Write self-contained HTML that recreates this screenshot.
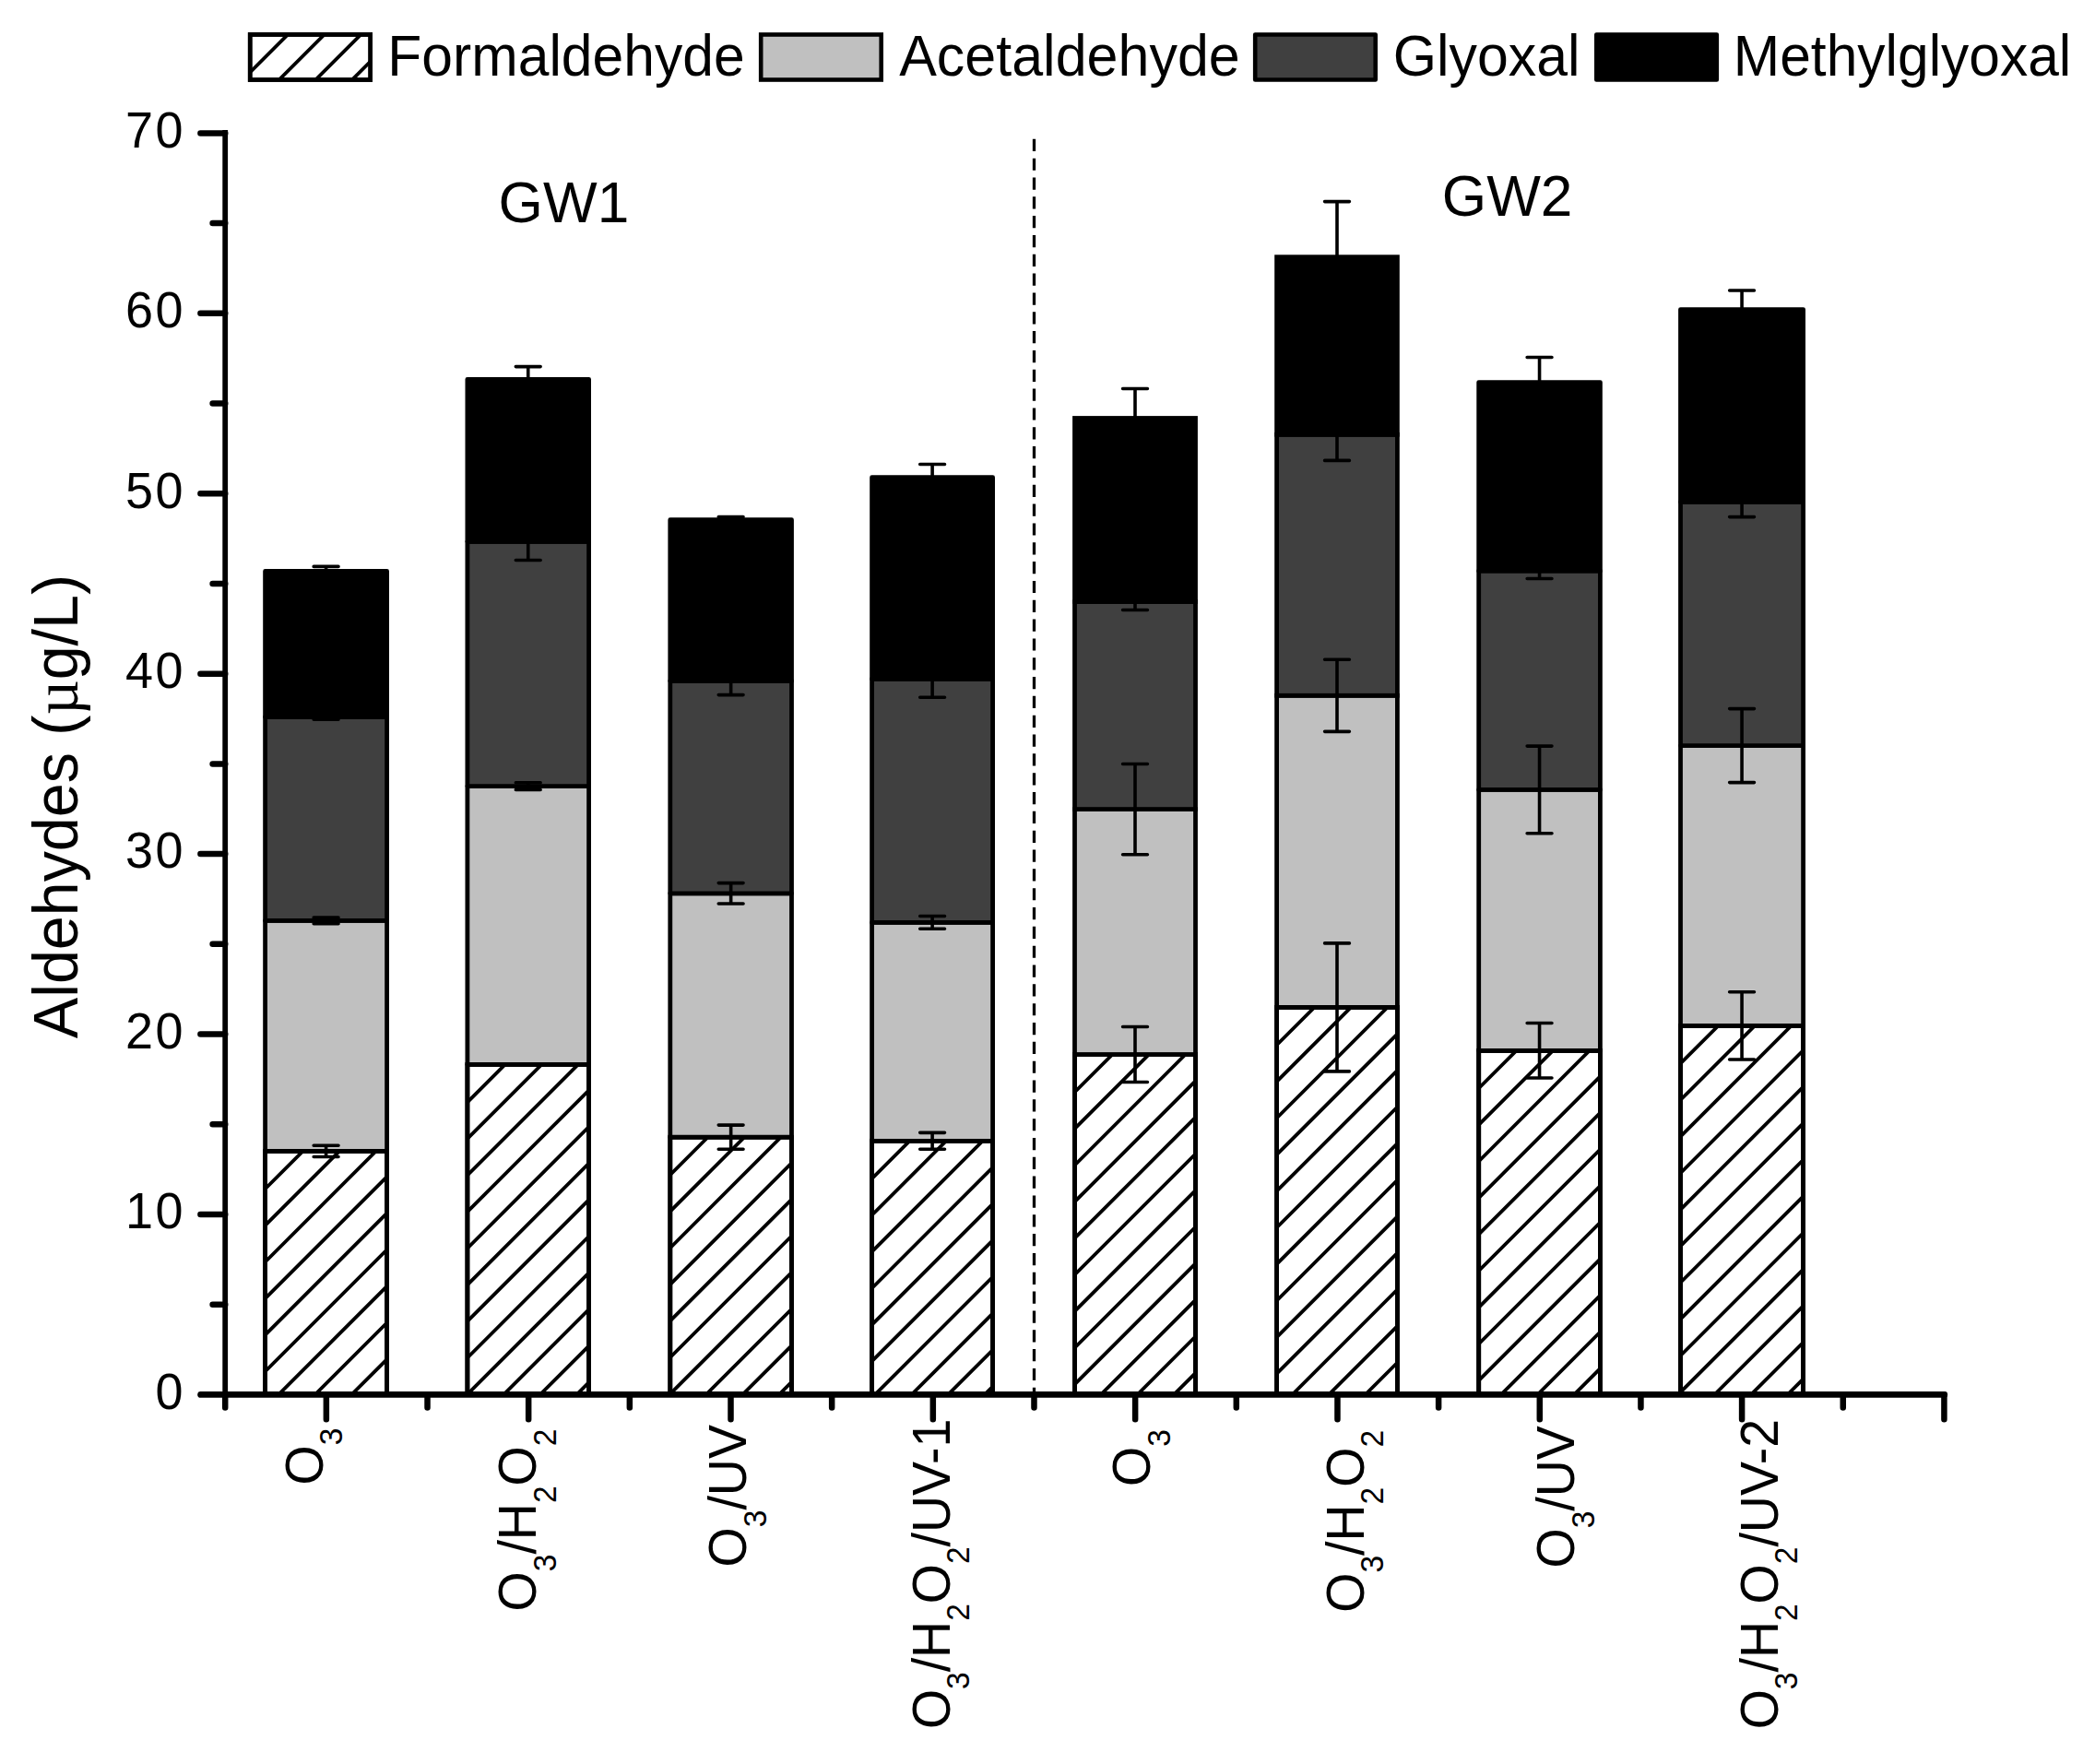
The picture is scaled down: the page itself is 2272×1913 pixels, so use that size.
<!DOCTYPE html>
<html lang="en"><head><meta charset="utf-8"><title>Aldehydes chart</title>
<style>html,body{margin:0;padding:0;background:#fff;}svg{display:block;}</style></head>
<body>
<svg width="2272" height="1913" viewBox="0 0 2272 1913">
<rect width="2272" height="1913" fill="#fff"/>
<g id="bars" stroke="#000" stroke-width="4.8" stroke-linejoin="miter">
<rect x="287.60" y="1248.40" width="132.00" height="264.00" fill="#ffffff" stroke-linejoin="round"/>
<g stroke-linejoin="miter"><clipPath id="h0"><rect x="287.60" y="1248.40" width="132.00" height="264.00"/></clipPath><g clip-path="url(#h0)" stroke="#000" stroke-width="3.8" fill="none"><path d="M282.60 1294.30L424.60 1152.30M282.60 1333.90L424.60 1191.90M282.60 1373.50L424.60 1231.50M282.60 1413.10L424.60 1271.10M282.60 1452.70L424.60 1310.70M282.60 1492.30L424.60 1350.30M282.60 1531.90L424.60 1389.90M282.60 1571.50L424.60 1429.50M282.60 1611.10L424.60 1469.10"/></g></g>
<rect x="287.60" y="1248.40" width="132.00" height="264.00" fill="none"/>
<rect x="287.60" y="998.40" width="132.00" height="250.00" fill="#c0c0c0" stroke-linejoin="round"/>
<rect x="287.60" y="777.50" width="132.00" height="220.90" fill="#404040" stroke-linejoin="round"/>
<rect x="287.60" y="619.40" width="132.00" height="158.10" fill="#000000" stroke-linejoin="round"/>
<rect x="506.90" y="1154.40" width="131.70" height="358.00" fill="#ffffff" stroke-linejoin="round"/>
<g stroke-linejoin="miter"><clipPath id="h1"><rect x="506.90" y="1154.40" width="131.70" height="358.00"/></clipPath><g clip-path="url(#h1)" stroke="#000" stroke-width="3.8" fill="none"><path d="M501.90 1200.30L643.60 1058.60M501.90 1239.90L643.60 1098.20M501.90 1279.50L643.60 1137.80M501.90 1319.10L643.60 1177.40M501.90 1358.70L643.60 1217.00M501.90 1398.30L643.60 1256.60M501.90 1437.90L643.60 1296.20M501.90 1477.50L643.60 1335.80M501.90 1517.10L643.60 1375.40M501.90 1556.70L643.60 1415.00M501.90 1596.30L643.60 1454.60M501.90 1635.90L643.60 1494.20"/></g></g>
<rect x="506.90" y="1154.40" width="131.70" height="358.00" fill="none"/>
<rect x="506.90" y="852.60" width="131.70" height="301.80" fill="#c0c0c0" stroke-linejoin="round"/>
<rect x="506.90" y="587.30" width="131.70" height="265.30" fill="#404040" stroke-linejoin="round"/>
<rect x="506.90" y="411.30" width="131.70" height="176.00" fill="#000000" stroke-linejoin="round"/>
<rect x="726.80" y="1233.20" width="131.70" height="279.20" fill="#ffffff" stroke-linejoin="round"/>
<g stroke-linejoin="miter"><clipPath id="h2"><rect x="726.80" y="1233.20" width="131.70" height="279.20"/></clipPath><g clip-path="url(#h2)" stroke="#000" stroke-width="3.8" fill="none"><path d="M721.80 1279.10L863.50 1137.40M721.80 1318.70L863.50 1177.00M721.80 1358.30L863.50 1216.60M721.80 1397.90L863.50 1256.20M721.80 1437.50L863.50 1295.80M721.80 1477.10L863.50 1335.40M721.80 1516.70L863.50 1375.00M721.80 1556.30L863.50 1414.60M721.80 1595.90L863.50 1454.20M721.80 1635.50L863.50 1493.80"/></g></g>
<rect x="726.80" y="1233.20" width="131.70" height="279.20" fill="none"/>
<rect x="726.80" y="968.80" width="131.70" height="264.40" fill="#c0c0c0" stroke-linejoin="round"/>
<rect x="726.80" y="738.50" width="131.70" height="230.30" fill="#404040" stroke-linejoin="round"/>
<rect x="726.80" y="563.70" width="131.70" height="174.80" fill="#000000" stroke-linejoin="round"/>
<rect x="945.60" y="1237.30" width="131.00" height="275.10" fill="#ffffff" stroke-linejoin="round"/>
<g stroke-linejoin="miter"><clipPath id="h3"><rect x="945.60" y="1237.30" width="131.00" height="275.10"/></clipPath><g clip-path="url(#h3)" stroke="#000" stroke-width="3.8" fill="none"><path d="M940.60 1283.20L1081.60 1142.20M940.60 1322.80L1081.60 1181.80M940.60 1362.40L1081.60 1221.40M940.60 1402.00L1081.60 1261.00M940.60 1441.60L1081.60 1300.60M940.60 1481.20L1081.60 1340.20M940.60 1520.80L1081.60 1379.80M940.60 1560.40L1081.60 1419.40M940.60 1600.00L1081.60 1459.00M940.60 1639.60L1081.60 1498.60"/></g></g>
<rect x="945.60" y="1237.30" width="131.00" height="275.10" fill="none"/>
<rect x="945.60" y="1000.40" width="131.00" height="236.90" fill="#c0c0c0" stroke-linejoin="round"/>
<rect x="945.60" y="736.30" width="131.00" height="264.10" fill="#404040" stroke-linejoin="round"/>
<rect x="945.60" y="517.70" width="131.00" height="218.60" fill="#000000" stroke-linejoin="round"/>
<rect x="1165.50" y="1143.50" width="131.00" height="368.90" fill="#ffffff"/>
<g stroke-linejoin="miter"><clipPath id="h4"><rect x="1165.50" y="1143.50" width="131.00" height="368.90"/></clipPath><g clip-path="url(#h4)" stroke="#000" stroke-width="3.8" fill="none"><path d="M1160.50 1189.40L1301.50 1048.40M1160.50 1229.00L1301.50 1088.00M1160.50 1268.60L1301.50 1127.60M1160.50 1308.20L1301.50 1167.20M1160.50 1347.80L1301.50 1206.80M1160.50 1387.40L1301.50 1246.40M1160.50 1427.00L1301.50 1286.00M1160.50 1466.60L1301.50 1325.60M1160.50 1506.20L1301.50 1365.20M1160.50 1545.80L1301.50 1404.80M1160.50 1585.40L1301.50 1444.40M1160.50 1625.00L1301.50 1484.00"/></g></g>
<rect x="1165.50" y="1143.50" width="131.00" height="368.90" fill="none"/>
<rect x="1165.50" y="877.60" width="131.00" height="265.90" fill="#c0c0c0"/>
<rect x="1165.50" y="652.50" width="131.00" height="225.10" fill="#404040"/>
<rect x="1165.50" y="453.50" width="131.00" height="199.00" fill="#000000"/>
<rect x="1384.60" y="1092.40" width="130.80" height="420.00" fill="#ffffff"/>
<g stroke-linejoin="miter"><clipPath id="h5"><rect x="1384.60" y="1092.40" width="130.80" height="420.00"/></clipPath><g clip-path="url(#h5)" stroke="#000" stroke-width="3.8" fill="none"><path d="M1379.60 1138.30L1520.40 997.50M1379.60 1177.90L1520.40 1037.10M1379.60 1217.50L1520.40 1076.70M1379.60 1257.10L1520.40 1116.30M1379.60 1296.70L1520.40 1155.90M1379.60 1336.30L1520.40 1195.50M1379.60 1375.90L1520.40 1235.10M1379.60 1415.50L1520.40 1274.70M1379.60 1455.10L1520.40 1314.30M1379.60 1494.70L1520.40 1353.90M1379.60 1534.30L1520.40 1393.50M1379.60 1573.90L1520.40 1433.10M1379.60 1613.50L1520.40 1472.70"/></g></g>
<rect x="1384.60" y="1092.40" width="130.80" height="420.00" fill="none"/>
<rect x="1384.60" y="754.30" width="130.80" height="338.10" fill="#c0c0c0"/>
<rect x="1384.60" y="471.30" width="130.80" height="283.00" fill="#404040"/>
<rect x="1384.60" y="278.70" width="130.80" height="192.60" fill="#000000"/>
<rect x="1603.70" y="1139.30" width="131.70" height="373.10" fill="#ffffff" stroke-linejoin="round"/>
<g stroke-linejoin="miter"><clipPath id="h6"><rect x="1603.70" y="1139.30" width="131.70" height="373.10"/></clipPath><g clip-path="url(#h6)" stroke="#000" stroke-width="3.8" fill="none"><path d="M1598.70 1185.20L1740.40 1043.50M1598.70 1224.80L1740.40 1083.10M1598.70 1264.40L1740.40 1122.70M1598.70 1304.00L1740.40 1162.30M1598.70 1343.60L1740.40 1201.90M1598.70 1383.20L1740.40 1241.50M1598.70 1422.80L1740.40 1281.10M1598.70 1462.40L1740.40 1320.70M1598.70 1502.00L1740.40 1360.30M1598.70 1541.60L1740.40 1399.90M1598.70 1581.20L1740.40 1439.50M1598.70 1620.80L1740.40 1479.10"/></g></g>
<rect x="1603.70" y="1139.30" width="131.70" height="373.10" fill="none"/>
<rect x="1603.70" y="856.40" width="131.70" height="282.90" fill="#c0c0c0" stroke-linejoin="round"/>
<rect x="1603.70" y="619.20" width="131.70" height="237.20" fill="#404040" stroke-linejoin="round"/>
<rect x="1603.70" y="414.60" width="131.70" height="204.60" fill="#000000" stroke-linejoin="round"/>
<rect x="1822.50" y="1112.40" width="133.10" height="400.00" fill="#ffffff" stroke-linejoin="round"/>
<g stroke-linejoin="miter"><clipPath id="h7"><rect x="1822.50" y="1112.40" width="133.10" height="400.00"/></clipPath><g clip-path="url(#h7)" stroke="#000" stroke-width="3.8" fill="none"><path d="M1817.50 1158.30L1960.60 1015.20M1817.50 1197.90L1960.60 1054.80M1817.50 1237.50L1960.60 1094.40M1817.50 1277.10L1960.60 1134.00M1817.50 1316.70L1960.60 1173.60M1817.50 1356.30L1960.60 1213.20M1817.50 1395.90L1960.60 1252.80M1817.50 1435.50L1960.60 1292.40M1817.50 1475.10L1960.60 1332.00M1817.50 1514.70L1960.60 1371.60M1817.50 1554.30L1960.60 1411.20M1817.50 1593.90L1960.60 1450.80M1817.50 1633.50L1960.60 1490.40"/></g></g>
<rect x="1822.50" y="1112.40" width="133.10" height="400.00" fill="none"/>
<rect x="1822.50" y="808.60" width="133.10" height="303.80" fill="#c0c0c0" stroke-linejoin="round"/>
<rect x="1822.50" y="544.40" width="133.10" height="264.20" fill="#404040" stroke-linejoin="round"/>
<rect x="1822.50" y="335.60" width="133.10" height="208.80" fill="#000000" stroke-linejoin="round"/>
</g>
<g id="err" stroke="#000" stroke-width="3.6" fill="none" stroke-linecap="butt">
<path d="M353.60 1244.10V1252.70M340.20 1242.30H367.00M340.20 1254.50H367.00M353.60 996.90V999.90M340.20 995.10H367.00M340.20 1001.70H367.00M353.60 776.60V778.40M340.20 774.80H367.00M340.20 780.20H367.00M353.60 616.20V622.60M340.20 614.40H367.00M340.20 624.40H367.00" stroke-linecap="round"/>
<path d="M572.75 850.50V854.70M559.35 848.70H586.15M559.35 856.50H586.15M572.75 568.90V605.70M559.35 567.10H586.15M559.35 607.50H586.15M572.75 399.40V423.20M559.35 397.60H586.15M559.35 425.00H586.15" stroke-linecap="round"/>
<path d="M792.65 1221.90V1244.50M779.25 1220.10H806.05M779.25 1246.30H806.05M792.65 959.40V978.20M779.25 957.60H806.05M779.25 980.00H806.05M792.65 725.20V751.80M779.25 723.40H806.05M779.25 753.60H806.05M792.65 562.30V565.10M779.25 560.50H806.05M779.25 566.90H806.05" stroke-linecap="round"/>
<path d="M1011.10 1230.15V1244.45M997.70 1228.35H1024.50M997.70 1246.25H1024.50M1011.10 995.35V1005.45M997.70 993.55H1024.50M997.70 1007.25H1024.50M1011.10 718.10V754.50M997.70 716.30H1024.50M997.70 756.30H1024.50M1011.10 505.30V530.10M997.70 503.50H1024.50M997.70 531.90H1024.50" stroke-linecap="round"/>
<path d="M1231.00 1115.30V1171.70M1217.60 1113.50H1244.40M1217.60 1173.50H1244.40M1231.00 830.25V924.95M1217.60 828.45H1244.40M1217.60 926.75H1244.40M1231.00 645.30V659.70M1217.60 643.50H1244.40M1217.60 661.50H1244.40M1231.00 423.30V483.70M1217.60 421.50H1244.40M1217.60 485.50H1244.40" stroke-linecap="round"/>
<path d="M1450.00 1024.70V1160.10M1436.60 1022.90H1463.40M1436.60 1161.90H1463.40M1450.00 717.05V791.55M1436.60 715.25H1463.40M1436.60 793.35H1463.40M1450.00 445.00V497.60M1436.60 443.20H1463.40M1436.60 499.40H1463.40M1450.00 220.40V337.00M1436.60 218.60H1463.40M1436.60 338.80H1463.40" stroke-linecap="round"/>
<path d="M1669.55 1111.35V1167.25M1656.15 1109.55H1682.95M1656.15 1169.05H1682.95M1669.55 810.90V901.90M1656.15 809.10H1682.95M1656.15 903.70H1682.95M1669.55 612.70V625.70M1656.15 610.90H1682.95M1656.15 627.50H1682.95M1669.55 389.30V439.90M1656.15 387.50H1682.95M1656.15 441.70H1682.95" stroke-linecap="round"/>
<path d="M1889.05 1077.60V1147.20M1875.65 1075.80H1902.45M1875.65 1149.00H1902.45M1889.05 770.40V846.80M1875.65 768.60H1902.45M1875.65 848.60H1902.45M1889.05 530.00V558.80M1875.65 528.20H1902.45M1875.65 560.60H1902.45M1889.05 316.80V354.40M1875.65 315.00H1902.45M1875.65 356.20H1902.45" stroke-linecap="round"/>
</g>
<line x1="1121.5" y1="150.8" x2="1121.5" y2="1512.4" stroke="#000" stroke-width="3.3" stroke-dasharray="13.2 7.63"/>
<g id="axes" stroke="#000" fill="none" stroke-linecap="butt">
<line x1="244.2" y1="141.09" x2="244.2" y2="1512.40" stroke-width="5.8"/>
<line x1="217.6" y1="1512.4" x2="2108.76" y2="1512.4" stroke-width="6.8" stroke-linecap="round"/>
<path d="M230.6 1414.69H244.2M217.4 1316.97H244.2M230.6 1219.26H244.2M217.4 1121.54H244.2M230.6 1023.83H244.2M217.4 926.11H244.2M230.6 828.40H244.2M217.4 730.68H244.2M230.6 632.97H244.2M217.4 535.25H244.2M230.6 437.54H244.2M217.4 339.82H244.2M230.6 242.11H244.2M217.4 144.39H244.2" stroke-width="6.5" stroke-linecap="round"/>
<path d="M244.20 1512.4V1526.6M353.86 1512.4V1539.3M463.52 1512.4V1526.6M573.18 1512.4V1539.3M682.84 1512.4V1526.6M792.50 1512.4V1539.3M902.16 1512.4V1526.6M1011.82 1512.4V1539.3M1121.48 1512.4V1526.6M1231.14 1512.4V1539.3M1340.80 1512.4V1526.6M1450.46 1512.4V1539.3M1560.12 1512.4V1526.6M1669.78 1512.4V1539.3M1779.44 1512.4V1526.6M1889.10 1512.4V1539.3M1998.76 1512.4V1526.6M2108.42 1512.4V1539.3" stroke-width="6.5" stroke-linecap="round"/>
</g>
<g id="txt" font-family='"Liberation Sans", sans-serif' fill="#000">
<text transform="translate(168.50 1527.70) scale(1 1.025)" font-size="54" text-anchor="start">0</text>
<text transform="translate(135.9 1332.27) scale(1 1.025)" font-size="54" x="0 32.6">10</text>
<text transform="translate(135.9 1136.84) scale(1 1.025)" font-size="54" x="0 32.6">20</text>
<text transform="translate(135.9 941.41) scale(1 1.025)" font-size="54" x="0 32.6">30</text>
<text transform="translate(135.9 745.98) scale(1 1.025)" font-size="54" x="0 32.6">40</text>
<text transform="translate(135.9 550.55) scale(1 1.025)" font-size="54" x="0 32.6">50</text>
<text transform="translate(135.9 355.12) scale(1 1.025)" font-size="54" x="0 32.6">60</text>
<text transform="translate(135.9 159.69) scale(1 1.025)" font-size="54" x="0 32.6">70</text>
<text transform="translate(420.33 82.20) scale(1 1.025)" font-size="60.6" text-anchor="start">Formaldehyde</text>
<text transform="translate(975.18 82.20) scale(1 1.025)" font-size="61.0" text-anchor="start">Acetaldehyde</text>
<text transform="translate(1510.84 82.20) scale(1 1.025)" font-size="60.8" text-anchor="start">Glyoxal</text>
<text transform="translate(1879.84 82.20) scale(1 1.025)" font-size="60.5" text-anchor="start">Methylglyoxal</text>
<text transform="translate(540.57 240.90) scale(1 1.025)" font-size="62.2" text-anchor="start">GW1</text>
<text transform="translate(1563.77 233.80) scale(1 1.025)" font-size="62.2" text-anchor="start">GW2</text>
<text transform="translate(84.10 1126.13) rotate(-90) scale(1 1.025)" font-size="66.4" text-anchor="start">Aldehydes (<tspan font-family="Liberation Serif, serif">µ</tspan>g/L)</text>
<text transform="translate(349.50 1610.51) rotate(-90) scale(1 1.025)" font-size="55.5" text-anchor="start"><tspan dy="0.00">O</tspan><tspan font-size="33.5" dy="20.98">3</tspan></text>
<text transform="translate(581.10 1747.41) rotate(-90) scale(1 1.025)" font-size="55.5" text-anchor="start"><tspan dy="0.00">O</tspan><tspan font-size="33.5" dy="20.98">3</tspan><tspan dy="-20.98">/H</tspan><tspan font-size="33.5" dy="20.98">2</tspan><tspan dy="-20.98">O</tspan><tspan font-size="33.5" dy="20.98">2</tspan></text>
<text transform="translate(809.20 1699.41) rotate(-90) scale(1 1.025)" font-size="55.5" text-anchor="start"><tspan dy="0.00">O</tspan><tspan font-size="33.5" dy="20.98">3</tspan><tspan dy="-20.98">/UV</tspan></text>
<text transform="translate(1029.90 1875.11) rotate(-90) scale(1 1.025)" font-size="55.5" text-anchor="start"><tspan dy="0.00">O</tspan><tspan font-size="33.5" dy="20.98">3</tspan><tspan dy="-20.98">/H</tspan><tspan font-size="33.5" dy="20.98">2</tspan><tspan dy="-20.98">O</tspan><tspan font-size="33.5" dy="20.98">2</tspan><tspan dy="-20.98">/UV-1</tspan></text>
<text transform="translate(1247.40 1611.91) rotate(-90) scale(1 1.025)" font-size="55.5" text-anchor="start"><tspan dy="0.00">O</tspan><tspan font-size="33.5" dy="20.98">3</tspan></text>
<text transform="translate(1478.80 1748.71) rotate(-90) scale(1 1.025)" font-size="55.5" text-anchor="start"><tspan dy="0.00">O</tspan><tspan font-size="33.5" dy="20.98">3</tspan><tspan dy="-20.98">/H</tspan><tspan font-size="33.5" dy="20.98">2</tspan><tspan dy="-20.98">O</tspan><tspan font-size="33.5" dy="20.98">2</tspan></text>
<text transform="translate(1707.30 1700.51) rotate(-90) scale(1 1.025)" font-size="55.5" text-anchor="start"><tspan dy="0.00">O</tspan><tspan font-size="33.5" dy="20.98">3</tspan><tspan dy="-20.98">/UV</tspan></text>
<text transform="translate(1927.90 1875.31) rotate(-90) scale(1 1.025)" font-size="55.5" text-anchor="start"><tspan dy="0.00">O</tspan><tspan font-size="33.5" dy="20.98">3</tspan><tspan dy="-20.98">/H</tspan><tspan font-size="33.5" dy="20.98">2</tspan><tspan dy="-20.98">O</tspan><tspan font-size="33.5" dy="20.98">2</tspan><tspan dy="-20.98">/UV-2</tspan></text>
</g>
<g id="leg" stroke="#000" stroke-width="4.6">
<rect x="271.2" y="37.5" width="130.5" height="49" fill="#ffffff"/>
<clipPath id="hl"><rect x="271.20" y="37.50" width="130.50" height="49.00"/></clipPath><g clip-path="url(#hl)" stroke="#000" stroke-width="3.8" fill="none"><path d="M266.20 83.40L406.70 -57.10M266.20 123.00L406.70 -17.50M266.20 162.60L406.70 22.10M266.20 202.20L406.70 61.70"/></g>
<rect x="271.2" y="37.5" width="130.5" height="49" fill="none"/>
<rect x="825.2" y="37.5" width="130.5" height="49" fill="#c0c0c0"/>
<rect x="1361.2" y="37.5" width="130.5" height="49" fill="#404040" stroke-linejoin="round"/>
<rect x="1731.3" y="37.5" width="130.5" height="49" fill="#000000" stroke-linejoin="round"/>
</g>
</svg>
</body></html>
